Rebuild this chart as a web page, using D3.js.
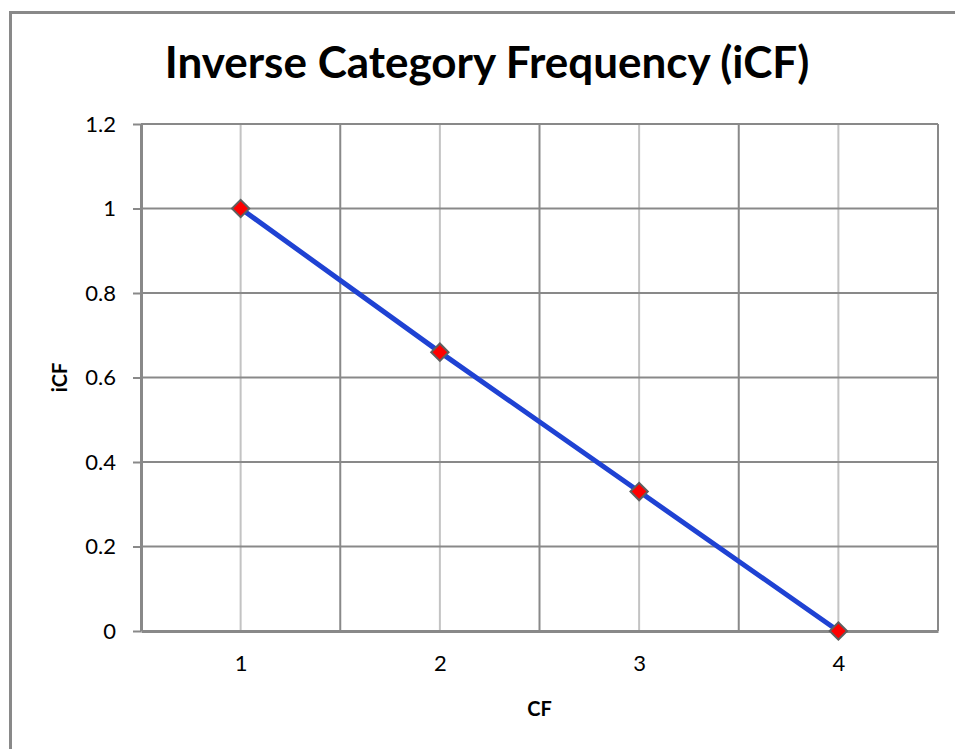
<!DOCTYPE html>
<html>
<head>
<meta charset="utf-8">
<script src="https://cdn.jsdelivr.net/npm/d3@7"></script>
<style>
  html, body { margin: 0; padding: 0; background: #fff; }
  svg { display: block; }
  text { font-family: Lato, "Open Sans", sans-serif; fill: #000; }
  .tick text { font-size: 22px; }
</style>
</head>
<body>
<script>
// Category frequency values and the resulting inverse category frequency
const cfValues = [1, 2, 3, 4];
const icfValues = [1, 0.66, 0.33, 0];
const yTickValues = [0, 0.2, 0.4, 0.6, 0.8, 1, 1.2];
const xTickValues = [1, 2, 3, 4];
const xBoundaries = [1.5, 2.5, 3.5];
const titleText = "Inverse Category Frequency (iCF)";
const xAxisTitle = "CF";
const yAxisTitle = "iCF";

const W = 955, H = 749;
const plot = { left: 141, right: 938, top: 124, bottom: 631 };
const labelFont = "Lato, 'Open Sans', sans-serif";

const svg = d3.select("body").append("svg")
  .attr("width", W).attr("height", H);

// chart frame
svg.append("rect")
  .attr("x", 10.5).attr("y", 12.5)
  .attr("width", 960).attr("height", 760)
  .attr("fill", "#fff")
  .attr("stroke", "#898989").attr("stroke-width", 3);

const x = d3.scaleLinear().domain([0.5, 4.5]).range([plot.left, plot.right]);
const y = d3.scaleLinear().domain([0, 1.2]).range([plot.bottom, plot.top]);

// light gridlines at each category
svg.append("g").selectAll("line").data(xTickValues).join("line")
  .attr("x1", d => x(d)).attr("x2", d => x(d))
  .attr("y1", plot.top).attr("y2", plot.bottom)
  .attr("stroke", "#c3c3c3").attr("stroke-width", 2);

// darker gridlines between categories
svg.append("g").selectAll("line").data(xBoundaries).join("line")
  .attr("x1", d => x(d)).attr("x2", d => x(d))
  .attr("y1", plot.top).attr("y2", plot.bottom)
  .attr("stroke", "#898989").attr("stroke-width", 2);

// horizontal gridlines
svg.append("g").selectAll("line").data(yTickValues.filter(v => v > 0)).join("line")
  .attr("x1", plot.left).attr("x2", plot.right)
  .attr("y1", d => y(d)).attr("y2", d => y(d))
  .attr("stroke", "#898989").attr("stroke-width", 2);

// right edge of plot area
svg.append("line")
  .attr("x1", plot.right).attr("x2", plot.right)
  .attr("y1", plot.top).attr("y2", plot.bottom)
  .attr("stroke", "#898989").attr("stroke-width", 2);

// y axis
const yAxis = svg.append("g")
  .attr("transform", `translate(${plot.left},0)`)
  .call(d3.axisLeft(y).tickValues(yTickValues).tickSize(8).tickSizeOuter(0)
    .tickPadding(17).tickFormat(d => String(d)));
yAxis.attr("font-size", 22).attr("font-family", labelFont);
yAxis.select(".domain").attr("stroke", "#898989").attr("stroke-width", 3);
yAxis.selectAll(".tick line").attr("stroke", "#898989").attr("stroke-width", 2);
yAxis.selectAll(".tick text").attr("font-size", 22).attr("fill", "#000");

// x axis
const xAxis = svg.append("g")
  .attr("transform", `translate(0,${plot.bottom})`)
  .call(d3.axisBottom(x).tickValues(xTickValues).tickSize(0).tickSizeOuter(0)
    .tickPadding(24).tickFormat(d => String(d)));
xAxis.attr("font-size", 22).attr("font-family", labelFont);
xAxis.select(".domain").attr("stroke", "#898989").attr("stroke-width", 3);
xAxis.selectAll(".tick text").attr("font-size", 22).attr("fill", "#000");

// series line
const pts = cfValues.map((c, i) => [c, icfValues[i]]);
svg.append("path")
  .datum(pts)
  .attr("fill", "none")
  .attr("stroke", "#1f42d3")
  .attr("stroke-width", 5)
  .attr("d", d3.line().x(d => x(d[0])).y(d => y(d[1])));

// diamond markers
const diamond = d3.symbol().type(d3.symbolSquare).size(150);
svg.append("g").selectAll("path").data(pts).join("path")
  .attr("d", diamond)
  .attr("transform", d => `translate(${x(d[0])},${y(d[1])}) rotate(45)`)
  .attr("fill", "#ff0000")
  .attr("stroke", "#5f5f5f").attr("stroke-width", 2);

// titles
svg.append("text")
  .attr("x", 487).attr("y", 78)
  .attr("text-anchor", "middle")
  .style("font-size", "44px").style("font-weight", "bold")
  .text(titleText);

svg.append("text")
  .attr("x", x(2.5)).attr("y", 716)
  .attr("text-anchor", "middle")
  .style("font-size", "20px").style("font-weight", "bold")
  .text(xAxisTitle);

svg.append("text")
  .attr("transform", `translate(67,${(plot.top + plot.bottom) / 2}) rotate(-90)`)
  .attr("text-anchor", "middle")
  .style("font-size", "20px").style("font-weight", "bold")
  .text(yAxisTitle);
</script>
</body>
</html>
